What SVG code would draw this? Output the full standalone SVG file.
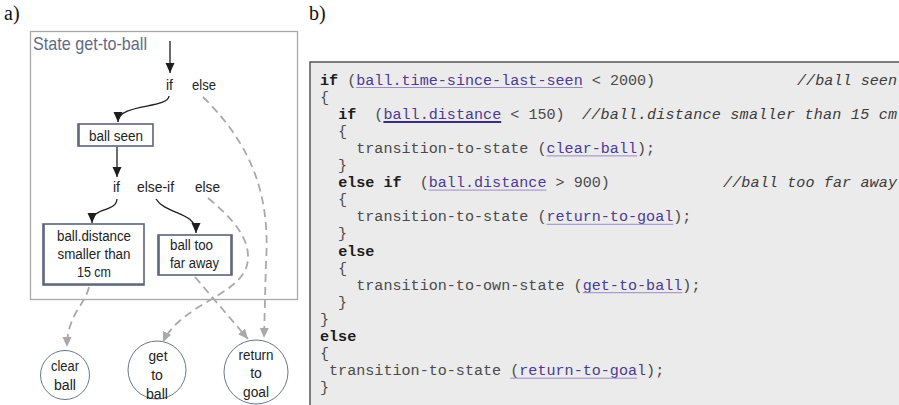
<svg xmlns="http://www.w3.org/2000/svg" width="899" height="405" viewBox="0 0 899 405">
  <style>
    .panel { font-family: "Liberation Serif", "Times New Roman", serif; font-size: 20px; fill: #111; }
    .lbl { font-family: "Liberation Sans", Arial, sans-serif; font-size: 14px; fill: #222; }
    .title { font-family: "Liberation Sans", Arial, sans-serif; font-size: 19px; fill: #5f6b87; }
    .node { fill: #fff; stroke: #5b6478; stroke-width: 1.6; }
    .term { fill: #fff; stroke: #6b7590; stroke-width: 1; }
    .flow { fill: none; stroke: #1e1e1e; stroke-width: 1.3; }
    .alt { fill: none; stroke: #a9a9a9; stroke-width: 1.8; stroke-dasharray: 8 5; }
    .code text { font-family: "Liberation Mono", "Courier New", monospace; font-size: 15.1px; fill: #4a4a4a; white-space: pre; }
    .code .kw { font-weight: bold; fill: #1c1c1c; }
    .code .ref { fill: #4b3a94; }
    .code .cmt { font-style: italic; fill: #3c3c3c; }
    .ul { stroke: #9a8cc6; stroke-width: 1; }
    .ul2 { stroke: #3b2c82; stroke-width: 2; }
  </style>
  <defs>
    <marker id="ah" viewBox="0 0 10 10" refX="10" refY="5" markerWidth="10" markerHeight="10" orient="auto" markerUnits="userSpaceOnUse">
      <path d="M0,0.5 L10,5 L0,9.5 z" fill="#1e1e1e"/>
    </marker>
    <marker id="ahg" viewBox="0 0 10 10" refX="10" refY="5" markerWidth="10" markerHeight="10" orient="auto" markerUnits="userSpaceOnUse">
      <path d="M0,0.5 L10,5 L0,9.5 z" fill="#a9a9a9"/>
    </marker>
  </defs>

  <rect width="899" height="405" fill="#fff"/>

  <!-- panel labels -->
  <text class="panel" x="4" y="20">a)</text>
  <text class="panel" x="309" y="20">b)</text>

  <!-- state frame -->
  <g id="state-get-to-ball">
    <rect x="30.5" y="31.5" width="267" height="268" fill="none" stroke="#a8a8a8" stroke-width="1.3"/>
    <text class="title" x="33" y="50" textLength="114" lengthAdjust="spacingAndGlyphs">State get-to-ball</text>
  </g>

  <!-- branch labels -->
  <g id="branch-outer">
    <text class="lbl" x="166" y="90">if</text>
    <text class="lbl" x="192" y="90" textLength="24" lengthAdjust="spacingAndGlyphs">else</text>
  </g>
  <g id="branch-inner">
    <text class="lbl" x="113" y="192">if</text>
    <text class="lbl" x="137" y="192" textLength="37" lengthAdjust="spacingAndGlyphs">else-if</text>
    <text class="lbl" x="195" y="192" textLength="25" lengthAdjust="spacingAndGlyphs">else</text>
  </g>

  <!-- condition nodes -->
  <g id="ball-seen">
    <rect class="node" x="78" y="124" width="75" height="22"/>
    <line class="node" x1="79" y1="124" x2="79" y2="146" stroke-width="3"/>
    <text class="lbl" x="116" y="140.5" text-anchor="middle" textLength="54" lengthAdjust="spacingAndGlyphs">ball seen</text>
  </g>
  <g id="ball-close">
    <rect class="node" x="43" y="224" width="101" height="61"/>
    <line class="node" x1="44" y1="224" x2="44" y2="285" stroke-width="3"/>
    <line class="node" x1="43" y1="284" x2="144" y2="284" stroke-width="3"/>
    <text class="lbl" x="94" y="241" text-anchor="middle" textLength="74" lengthAdjust="spacingAndGlyphs">ball.distance</text>
    <text class="lbl" x="94" y="259" text-anchor="middle" textLength="73" lengthAdjust="spacingAndGlyphs">smaller than</text>
    <text class="lbl" x="94" y="277" text-anchor="middle" textLength="34" lengthAdjust="spacingAndGlyphs">15 cm</text>
  </g>
  <g id="ball-far">
    <rect class="node" x="158" y="235" width="74" height="40"/>
    <line class="node" x1="159" y1="235" x2="159" y2="275" stroke-width="3"/>
    <line class="node" x1="231" y1="235" x2="231" y2="275" stroke-width="2.5"/>
    <text class="lbl" x="170" y="249.5" textLength="43" lengthAdjust="spacingAndGlyphs">ball too</text>
    <text class="lbl" x="170" y="268" textLength="49" lengthAdjust="spacingAndGlyphs">far away</text>
  </g>

  <!-- target states -->
  <g id="clear-ball">
    <circle class="term" cx="65" cy="375" r="24.5"/>
    <text class="lbl" x="65" y="371" text-anchor="middle" textLength="28" lengthAdjust="spacingAndGlyphs">clear</text>
    <text class="lbl" x="65" y="390" text-anchor="middle" textLength="22" lengthAdjust="spacingAndGlyphs">ball</text>
  </g>
  <g id="get-to-ball">
    <circle class="term" cx="157" cy="370" r="29"/>
    <text class="lbl" x="158" y="361" text-anchor="middle" textLength="19" lengthAdjust="spacingAndGlyphs">get</text>
    <text class="lbl" x="157" y="380" text-anchor="middle">to</text>
    <text class="lbl" x="157" y="399" text-anchor="middle" textLength="22" lengthAdjust="spacingAndGlyphs">ball</text>
  </g>
  <g id="return-to-goal">
    <circle class="term" cx="256" cy="372" r="32"/>
    <text class="lbl" x="256" y="360" text-anchor="middle" textLength="35" lengthAdjust="spacingAndGlyphs">return</text>
    <text class="lbl" x="256" y="378" text-anchor="middle">to</text>
    <text class="lbl" x="256" y="397" text-anchor="middle" textLength="26" lengthAdjust="spacingAndGlyphs">goal</text>
  </g>

  <!-- connectors -->
  <g id="connectors">
    <path class="flow" d="M170,41 L170,73" marker-end="url(#ah)"/>
    <path class="flow" d="M169,96 C168,109 118,103 118,122" marker-end="url(#ah)"/>
    <path class="flow" d="M117,147 L117,177" marker-end="url(#ah)"/>
    <path class="flow" d="M117,199 C116,213 92,206 92,223" marker-end="url(#ah)"/>
    <path class="flow" d="M156,199 C166,215 196,211 196,233" marker-end="url(#ah)"/>

    <path class="alt" d="M203,97 C255,148 270,200 266,262 L264,338" marker-end="url(#ahg)"/>
    <path class="alt" d="M208,198 C232,218 253,240 247,265 C240,295 180,305 163,342" marker-end="url(#ahg)"/>
    <path class="alt" d="M195,277 L248,339" marker-end="url(#ahg)"/>
    <path class="alt" d="M89,287 C85,305 67,315 67,347" marker-end="url(#ahg)"/>
  </g>

  <!-- code listing -->
  <g id="code-listing">
    <rect x="310" y="62" width="600" height="360" fill="#ebebeb" stroke="#555" stroke-width="1.5"/>
    <g class="code">
      <text x="320" y="84.5"><tspan class="kw">if</tspan> (<tspan class="ref">ball.time-since-last-seen</tspan> &lt; 2000)</text>
      <text class="cmt" x="797" y="84.5" textLength="100">//ball seen</text>
      <text x="320" y="101.6">{</text>
      <text x="320" y="118.7">  <tspan class="kw">if</tspan>  (<tspan class="ref">ball.distance</tspan> &lt; 150)</text>
      <text class="cmt" x="582" y="118.7" textLength="315">//ball.distance smaller than 15 cm</text>
      <text x="320" y="135.8">  {</text>
      <text x="320" y="152.9">    transition-to-state (<tspan class="ref">clear-ball</tspan>);</text>
      <text x="320" y="170">  }</text>
      <text x="320" y="187.1">  <tspan class="kw">else if</tspan>  (<tspan class="ref">ball.distance</tspan> &gt; 900)</text>
      <text class="cmt" x="723" y="187.1" textLength="174">//ball too far away</text>
      <text x="320" y="204.2">  {</text>
      <text x="320" y="221.3">    transition-to-state (<tspan class="ref">return-to-goal</tspan>);</text>
      <text x="320" y="238.4">  }</text>
      <text x="320" y="255.5">  <tspan class="kw">else</tspan></text>
      <text x="320" y="272.6">  {</text>
      <text x="320" y="289.7">    transition-to-own-state (<tspan class="ref">get-to-ball</tspan>);</text>
      <text x="320" y="306.8">  }</text>
      <text x="320" y="323.9">}</text>
      <text x="320" y="341"><tspan class="kw">else</tspan></text>
      <text x="320" y="358.1">{</text>
      <text x="320" y="375.2"> transition-to-state (<tspan class="ref">return-to-goal</tspan>);</text>
      <text x="320" y="392.3">}</text>
    </g>
    <!-- link underlines -->
    <line class="ul" x1="356.2" y1="87.5" x2="582.7" y2="87.5"/>
    <line class="ul2" x1="383.4" y1="122" x2="501.2" y2="122"/>
    <line class="ul" x1="546.5" y1="155.9" x2="637.1" y2="155.9"/>
    <line class="ul" x1="428.7" y1="190.1" x2="546.5" y2="190.1"/>
    <line class="ul" x1="546.5" y1="224.3" x2="673.3" y2="224.3"/>
    <line class="ul" x1="582.7" y1="292.7" x2="682.4" y2="292.7"/>
    <line class="ul" x1="510.3" y1="378.2" x2="637.1" y2="378.2"/>
  </g>
</svg>
